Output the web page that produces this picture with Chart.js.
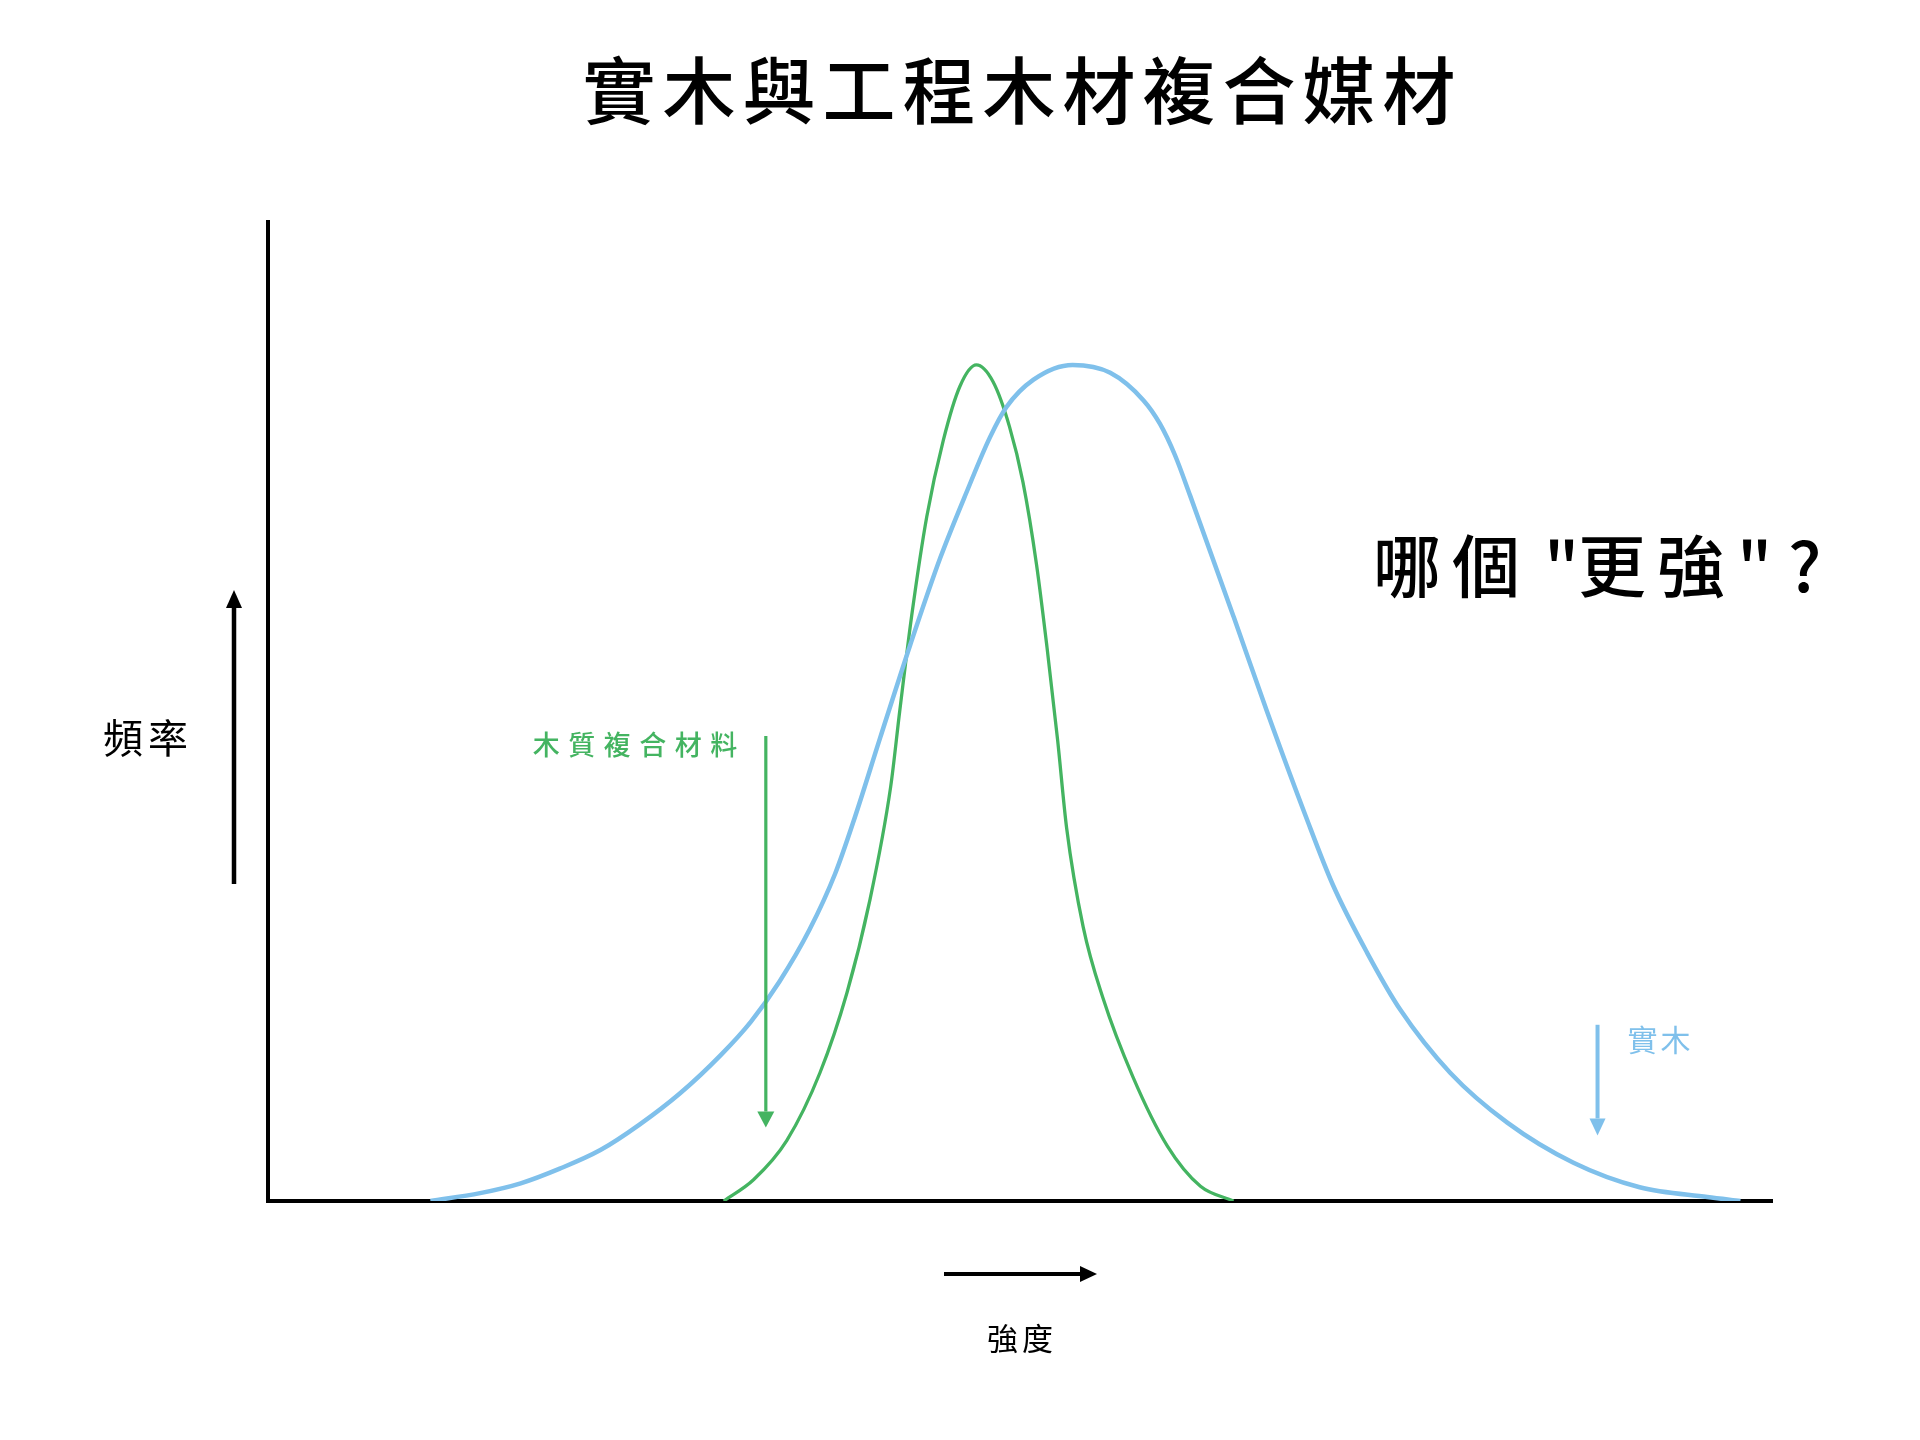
<!DOCTYPE html>
<html>
<head>
<meta charset="utf-8">
<script src="https://cdn.jsdelivr.net/npm/chart.js@4/dist/chart.umd.min.js"></script>
<style>
  html, body { margin: 0; padding: 0; background: #fff; }
  #wrap { width: 1920px; height: 1440px; }
</style>
</head>
<body>
<div id="wrap"><canvas id="chart"></canvas></div>
<script>
// strength (x) and frequency (y), 0-100 on both axes
const woodX = [10.8, 14.1, 16.8, 19.4, 22.1, 24.7, 27.4, 30.1, 32.1, 34.0, 36.0, 37.7, 39.0, 40.7, 42.7, 44.7, 46.5, 48.0, 49.1, 50.9, 53.5,
               56.0, 58.2, 59.3, 60.3, 61.3, 64.2, 66.4, 69.0, 70.8, 73.1, 75.3, 78.6, 82.4, 86.8, 91.2, 95.7, 97.9];
const woodY = [0, 0.8, 1.8, 3.3, 5.2, 7.8, 11.0, 14.9, 18.3, 22.4, 27.7, 33.4, 39.1, 47.3, 56.8, 65.7, 72.6, 78.0, 81.1, 83.9, 85.4,
               84.6, 81.8, 79.4, 76.2, 72.1, 59.7, 50.1, 39.3, 32.3, 25.3, 19.5, 13.1, 8.0, 3.9, 1.4, 0.4, 0];

const compX = [30.3, 32.3, 34.5, 36.7, 38.5, 40.0, 41.4, 42.0, 42.8, 43.8, 44.9, 46.0, 47.1,
               48.2, 49.3, 50.2, 51.1, 51.8, 52.5, 53.1, 54.2, 55.5, 57.5, 59.8, 62.0, 64.2];
const compY = [0, 2.2, 6.2, 13.1, 21.3, 30.6, 42.3, 50.0, 59.8, 69.9, 77.7, 83.2, 85.4,
               83.7, 79.1, 73.4, 65.0, 56.5, 47.1, 38.1, 28.0, 20.8, 12.7, 5.6, 1.5, 0];

const seriesNames = ['實木', '木質複合材料'];
const titleText = '實木與工程木材複合媒材';
const questionParts = ['哪個', '"', '更強', '"', '?'];
const yAxisLabel = '頻率';
const xAxisLabel = '強度';

const BLUE = '#7fc0eb';
const GREEN = '#44b461';
const CJK = "'Noto Sans CJK TC', 'Noto Sans CJK SC', sans-serif";

function toPoints(xs, ys) {
    return xs.map((x, i) => ({ x: x, y: ys[i] }));
}

function arrow(ctx, x1, y1, x2, y2, w, headLen, headW, color) {
    const ang = Math.atan2(y2 - y1, x2 - x1);
    const bx = x2 - headLen * Math.cos(ang);
    const by = y2 - headLen * Math.sin(ang);
    ctx.save();
    ctx.strokeStyle = color;
    ctx.fillStyle = color;
    ctx.lineWidth = w;
    ctx.beginPath();
    ctx.moveTo(x1, y1);
    ctx.lineTo(bx, by);
    ctx.stroke();
    ctx.beginPath();
    ctx.moveTo(x2, y2);
    ctx.lineTo(bx + headW / 2 * Math.sin(ang), by - headW / 2 * Math.cos(ang));
    ctx.lineTo(bx - headW / 2 * Math.sin(ang), by + headW / 2 * Math.cos(ang));
    ctx.closePath();
    ctx.fill();
    ctx.restore();
}

// draws text one character at a time so the tracking does not depend on ctx.letterSpacing
function spaced(ctx, str, x, y, font, color, align, spacing) {
    ctx.save();
    ctx.font = font;
    ctx.fillStyle = color;
    ctx.textAlign = 'left';
    ctx.textBaseline = 'middle';
    const chars = Array.from(str);
    const widths = chars.map(c => ctx.measureText(c).width);
    const total = widths.reduce((a, b) => a + b, 0) + spacing * (chars.length - 1);
    let cx = align === 'center' ? x - total / 2 : align === 'right' ? x - total : x;
    chars.forEach((c, i) => {
        ctx.fillText(c, cx, y);
        cx += widths[i] + spacing;
    });
    ctx.restore();
}

// titles, axis arrows and the two series callouts
const decorations = {
    id: 'decorations',
    afterDraw(chart) {
        const ctx = chart.ctx;
        const xs = chart.scales.x, ys = chart.scales.y;

        spaced(ctx, titleText, 1019, 90, '500 73px ' + CJK, '#000', 'center', 7);

        const qFont = '500 68px ' + CJK;
        spaced(ctx, questionParts[0], 1373, 566, qFont, '#000', 'left', 11);
        spaced(ctx, questionParts[1], 1544, 566, qFont, '#000', 'left', 0);
        spaced(ctx, questionParts[2], 1578, 566, qFont, '#000', 'left', 11);
        spaced(ctx, questionParts[3], 1737, 566, qFont, '#000', 'left', 0);
        spaced(ctx, questionParts[4], 1788, 566, qFont, '#000', 'left', 0);

        // axis direction arrows
        arrow(ctx, 234, 884, 234, 590, 4.5, 18, 16, '#000');
        spaced(ctx, yAxisLabel, 103, 738, '400 40px ' + CJK, '#000', 'left', 5);
        arrow(ctx, 944, 1274, 1097, 1274, 4, 17, 16, '#000');
        spaced(ctx, xAxisLabel, 1020, 1338, '400 31px ' + CJK, '#000', 'center', 4);

        // callout for engineered wood
        arrow(ctx, xs.getPixelForValue(33.1), ys.getPixelForValue(47.5),
              xs.getPixelForValue(33.1), ys.getPixelForValue(7.5), 3.2, 16, 17, GREEN);
        spaced(ctx, seriesNames[1], xs.getPixelForValue(17.6), ys.getPixelForValue(46.6), '500 27px ' + CJK, GREEN, 'left', 8.5);

        // callout for solid wood
        arrow(ctx, xs.getPixelForValue(88.4), ys.getPixelForValue(18.0),
              xs.getPixelForValue(88.4), ys.getPixelForValue(6.7), 4, 17, 16, BLUE);
        spaced(ctx, seriesNames[0], xs.getPixelForValue(90.4), ys.getPixelForValue(16.5), '400 30px ' + CJK, BLUE, 'left', 3);
    }
};

new Chart(document.getElementById('chart'), {
    type: 'line',
    data: {
        datasets: [{
            label: seriesNames[0],
            data: toPoints(woodX, woodY),
            borderColor: BLUE,
            borderWidth: 4.5,
            pointRadius: 0,
            cubicInterpolationMode: 'monotone',
            fill: false
        }, {
            label: seriesNames[1],
            data: toPoints(compX, compY),
            borderColor: GREEN,
            borderWidth: 3.3,
            pointRadius: 0,
            cubicInterpolationMode: 'monotone',
            fill: false
        }]
    },
    options: {
        responsive: true,
        maintainAspectRatio: false,
        animation: false,
        layout: { padding: { left: 268, right: 148, top: 222, bottom: 239 } },
        plugins: {
            legend: { display: false },
            tooltip: { enabled: false },
            title: { display: false }
        },
        scales: {
            x: {
                type: 'linear', min: 0, max: 100,
                ticks: { display: false },
                grid: { display: false, drawTicks: false },
                border: { display: true, color: '#000', width: 4 }
            },
            y: {
                min: 0, max: 100,
                ticks: { display: false },
                grid: { display: false, drawTicks: false },
                border: { display: true, color: '#000', width: 4 }
            }
        }
    },
    plugins: [decorations]
});
</script>
</body>
</html>
